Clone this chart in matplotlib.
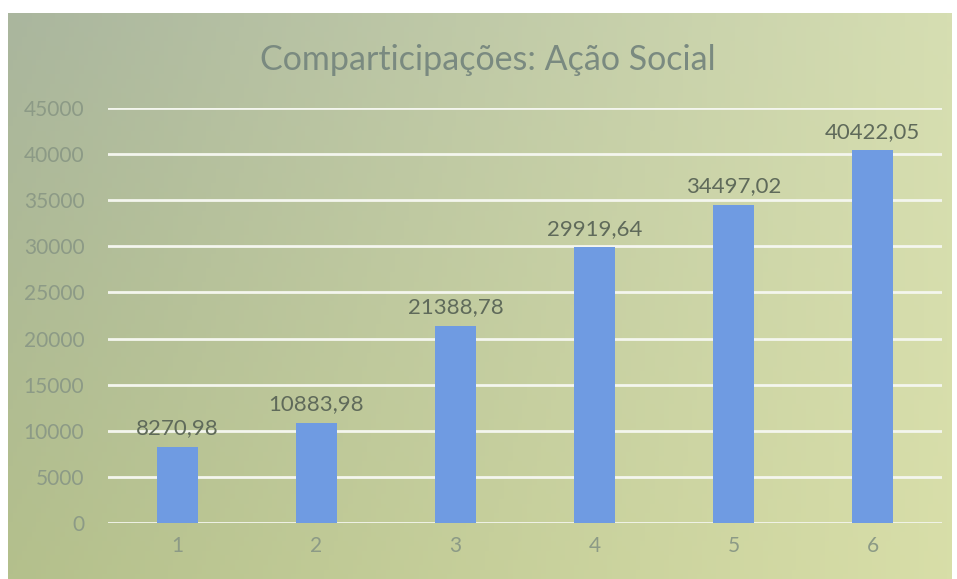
import numpy as np
import matplotlib.pyplot as plt

# data
categories = ['1', '2', '3', '4', '5', '6']
values = [8270.98, 10883.98, 21388.78, 29919.64, 34497.02, 40422.05]
labels = ['8270,98', '10883,98', '21388,78', '29919,64', '34497,02', '40422,05']
yticks = [0, 5000, 10000, 15000, 20000, 25000, 30000, 35000, 40000, 45000]

W, H = 957, 579
plt.rcParams['font.family'] = ['Lato', 'DejaVu Sans']

fig = plt.figure(figsize=(W / 100, H / 100), dpi=100)
fig.patch.set_facecolor('white')

# gradient background of the chart area (scanned Excel chart)
bg = fig.add_axes([8 / W, 0, (952 - 8) / W, (H - 13) / H])
tl = np.array([170, 182, 158]) / 255
tr = np.array([214, 222, 178]) / 255
bl = np.array([180, 192, 140]) / 255
br = np.array([216, 222, 168]) / 255
u = np.linspace(0, 1, 200)[None, :, None]
v = np.linspace(0, 1, 120)[:, None, None]
grad = (1 - v) * ((1 - u) * tl + u * tr) + v * ((1 - u) * bl + u * br)
bg.imshow(grad, aspect='auto', extent=[0, 1, 0, 1], origin='upper')
bg.axis('off')

ax = fig.add_axes([108 / W, (H - 523) / H, (942 - 108) / W, (523 - 108) / H])
ax.patch.set_alpha(0)
x = np.arange(len(categories))
ax.bar(x, values, width=0.3, color='#6f9be2', zorder=3)
ax.set_xlim(-0.5, len(categories) - 0.5)
ax.set_ylim(0, 45000)
ax.set_yticks(yticks)
ax.set_yticklabels([str(t) for t in yticks])
ax.set_xticks(x)
ax.set_xticklabels(categories)
ax.grid(axis='y', color='#f4f6ee', linewidth=2, zorder=1)
ax.tick_params(length=0, labelsize=15, colors='#8c9a86')
ax.tick_params(axis='y', pad=17)
ax.tick_params(axis='x', pad=9)
for s in ax.spines.values():
    s.set_visible(False)

for xi, val, lab in zip(x, values, labels):
    ax.annotate(lab, (xi, val), xytext=(0, 6), textcoords='offset points',
                ha='center', va='bottom', fontsize=16, color='#5f6a5a')

fig.text(488 / W, 1 - 60 / H, 'Comparticipações: Ação Social', ha='center', va='center',
         fontsize=24.5, color='#7a8a80')

fig.savefig('out.png', dpi=100)
